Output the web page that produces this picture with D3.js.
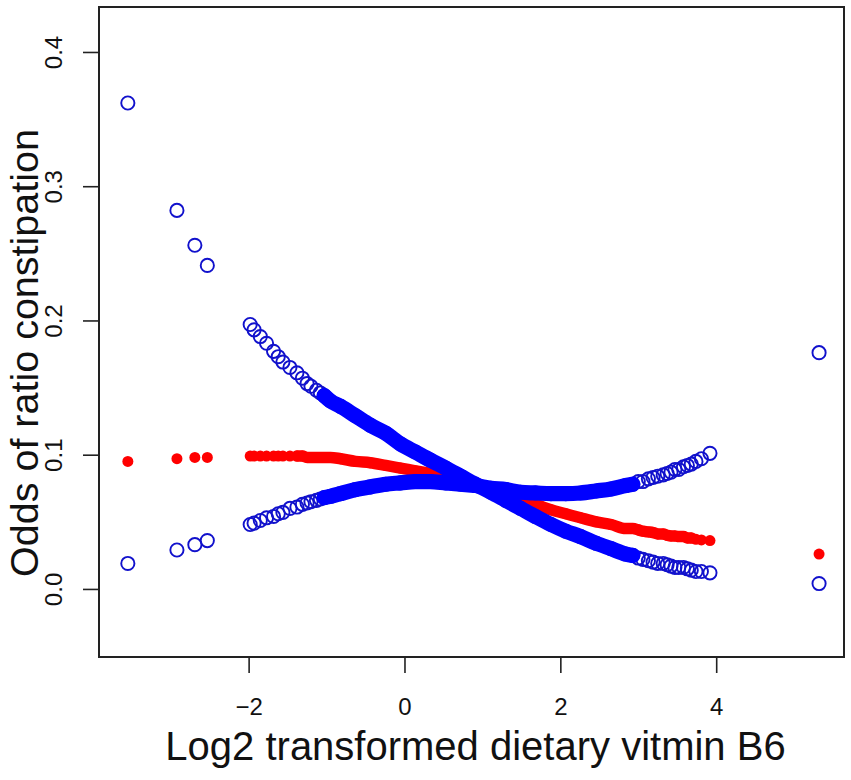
<!DOCTYPE html>
<html>
<head>
<meta charset="utf-8">
<script src="https://cdn.jsdelivr.net/npm/d3@7"></script>
<style>
  body { margin: 0; background: #fff; }
  text { font-family: "Liberation Sans", Arial, sans-serif; fill: #111; }
</style>
</head>
<body>
<div id="chart"></div>
<script>
// exposure (log2 vitamin B6) and fitted odds + 95% CI
const xVals = [-3.55, -2.92, -2.69, -2.53, -1.98, -1.93, -1.85, -1.77, -1.68, -1.62,
  -1.56, -1.47, -1.38, -1.31, -1.25, -1.20, -1.13, -1.08, -1.03, -0.95,
  -0.82, -0.63, -0.44, -0.24, -0.05, 0.14, 0.33, 0.53, 0.72, 0.91,
  1.11, 1.30, 1.49, 1.68, 1.88, 2.07, 2.26, 2.46, 2.65, 2.84,
  2.93, 3.00, 3.06, 3.13, 3.19, 3.25, 3.32, 3.37, 3.42, 3.47,
  3.52, 3.58, 3.63, 3.68, 3.74, 3.81, 3.92, 5.32];

const orVals = [0.095, 0.097, 0.098, 0.098, 0.099, 0.099, 0.099, 0.099, 0.099, 0.099,
  0.099, 0.099, 0.099, 0.099, 0.098, 0.098, 0.098, 0.098, 0.098, 0.098,
  0.097, 0.095, 0.094, 0.092, 0.090, 0.088, 0.086, 0.083, 0.080, 0.0775,
  0.074, 0.070, 0.066, 0.063, 0.059, 0.056, 0.053, 0.050, 0.048, 0.045,
  0.045, 0.044, 0.043, 0.0425, 0.042, 0.041, 0.041, 0.040, 0.0395, 0.0395,
  0.039, 0.039, 0.038, 0.038, 0.037, 0.0365, 0.036, 0.026];

const upperVals = [0.362, 0.282, 0.256, 0.241, 0.197, 0.193, 0.188, 0.183, 0.177, 0.173,
  0.169, 0.165, 0.161, 0.157, 0.153, 0.151, 0.148, 0.146, 0.144, 0.140,
  0.136, 0.129, 0.122, 0.116, 0.108, 0.102, 0.096, 0.090, 0.084, 0.078,
  0.072, 0.066, 0.060, 0.054, 0.048, 0.043, 0.039, 0.034, 0.030, 0.026,
  0.025, 0.023, 0.022, 0.021, 0.020, 0.019, 0.019, 0.018, 0.017, 0.016,
  0.016, 0.016, 0.015, 0.014, 0.013, 0.013, 0.012, 0.176];

const lowerVals = [0.019, 0.029, 0.033, 0.036, 0.048, 0.049, 0.051, 0.053, 0.054, 0.056,
  0.057, 0.060, 0.061, 0.063, 0.064, 0.065, 0.066, 0.067, 0.068, 0.069,
  0.071, 0.074, 0.076, 0.078, 0.079, 0.080, 0.080, 0.079, 0.078, 0.077,
  0.075, 0.074, 0.072, 0.0715, 0.071, 0.071, 0.0715, 0.073, 0.0745, 0.077,
  0.078, 0.080, 0.080, 0.082, 0.083, 0.084, 0.085, 0.086, 0.087, 0.089,
  0.089, 0.091, 0.092, 0.093, 0.095, 0.097, 0.101, 0.004];

const xTicks = [-2, 0, 2, 4];
const yTicks = [0.0, 0.1, 0.2, 0.3, 0.4];

const data = xVals.map((x, i) => ({ x: x, or: orVals[i], up: upperVals[i], lo: lowerVals[i] }));

let margin = { top: 7, right: 7, bottom: 123, left: 99 },
  width = 851 - margin.left - margin.right,
  height = 780 - margin.top - margin.bottom;

let svg = d3.select("#chart")
  .append("svg")
  .attr("width", 851)
  .attr("height", 780)
  .append("g")
  .attr("transform", "translate(" + margin.left + "," + margin.top + ")");

let x = d3.scaleLinear()
  .domain([-3.92, 5.64])
  .range([0, width]);

let y = d3.scaleLinear()
  .domain([-0.0507, 0.4335])
  .range([height, 0]);

// axes, R style: ticks outside, labels horizontal on x, rotated on y
let xAxis = svg.append("g")
  .attr("transform", "translate(0," + height + ")")
  .call(d3.axisBottom(x).tickValues(xTicks).tickSize(16).tickPadding(0)
    .tickFormat(d => d < 0 ? "\u2212" + Math.abs(d) : d));
xAxis.select(".domain").remove();
xAxis.selectAll("line").attr("stroke", "#222").attr("stroke-width", 1.6);
xAxis.selectAll("text")
  .attr("y", 58).attr("dy", null)
  .style("font-size", "24px")
  .style("font-family", "Liberation Sans, Arial, sans-serif")
  .attr("fill", "#111");

let yAxis = svg.append("g")
  .call(d3.axisLeft(y).tickValues(yTicks).tickSize(16).tickFormat(d3.format(".1f")));
yAxis.select(".domain").remove();
yAxis.selectAll("line").attr("stroke", "#222").attr("stroke-width", 1.6);
yAxis.selectAll("text")
  .attr("x", null).attr("dy", null)
  .attr("text-anchor", "middle")
  .attr("transform", "translate(-37,0) rotate(-90)")
  .style("font-size", "24px")
  .style("font-family", "Liberation Sans, Arial, sans-serif")
  .attr("fill", "#111");

// box
svg.append("rect")
  .attr("width", width)
  .attr("height", height)
  .attr("fill", "none")
  .attr("stroke", "#222")
  .attr("stroke-width", 2);

// dense part of the sample: overlapping markers look like a solid band
let band = (key) => d3.line()
  .x(d => x(d.x))
  .y(d => y(d[key]))
  .curve(d3.curveMonotoneX);

let redDense = data.filter(d => d.x >= -1.40 && d.x <= 3.70);
let blueDense = data.filter(d => d.x >= -1.05 && d.x <= 2.95);

svg.append("path")
  .datum(redDense)
  .attr("fill", "none")
  .attr("stroke", "#ff0000")
  .attr("stroke-width", 11.5)
  .attr("stroke-linecap", "round")
  .attr("d", band("or"));

svg.append("g")
  .selectAll("circle")
  .data(data)
  .enter()
  .append("circle")
  .attr("cx", d => x(d.x))
  .attr("cy", d => y(d.or))
  .attr("r", 5.5)
  .attr("fill", "#ff0000");

["up", "lo"].forEach(key => {
  svg.append("g")
    .selectAll("circle")
    .data(data)
    .enter()
    .append("circle")
    .attr("cx", d => x(d.x))
    .attr("cy", d => y(d[key]))
    .attr("r", 6.6)
    .attr("fill", "none")
    .attr("stroke", "#1111cc")
    .attr("stroke-width", 1.9);
});

["up", "lo"].forEach(key => {
  svg.append("path")
    .datum(blueDense)
    .attr("fill", "none")
    .attr("stroke", "#0000ff")
    .attr("stroke-width", 15.2)
    .attr("stroke-linecap", "round")
    .attr("d", band(key));
});

// axis titles
svg.append("text")
  .attr("x", width / 2 + 4)
  .attr("y", 760 - margin.top)
  .attr("text-anchor", "middle")
  .style("font-size", "40px")
  .text("Log2 transformed dietary vitmin B6");

svg.append("text")
  .attr("transform", "translate(" + (38 - margin.left) + "," + (353 - margin.top) + ") rotate(-90)")
  .attr("text-anchor", "middle")
  .style("font-size", "39.5px")
  .text("Odds of ratio constipation");
</script>
</body>
</html>
